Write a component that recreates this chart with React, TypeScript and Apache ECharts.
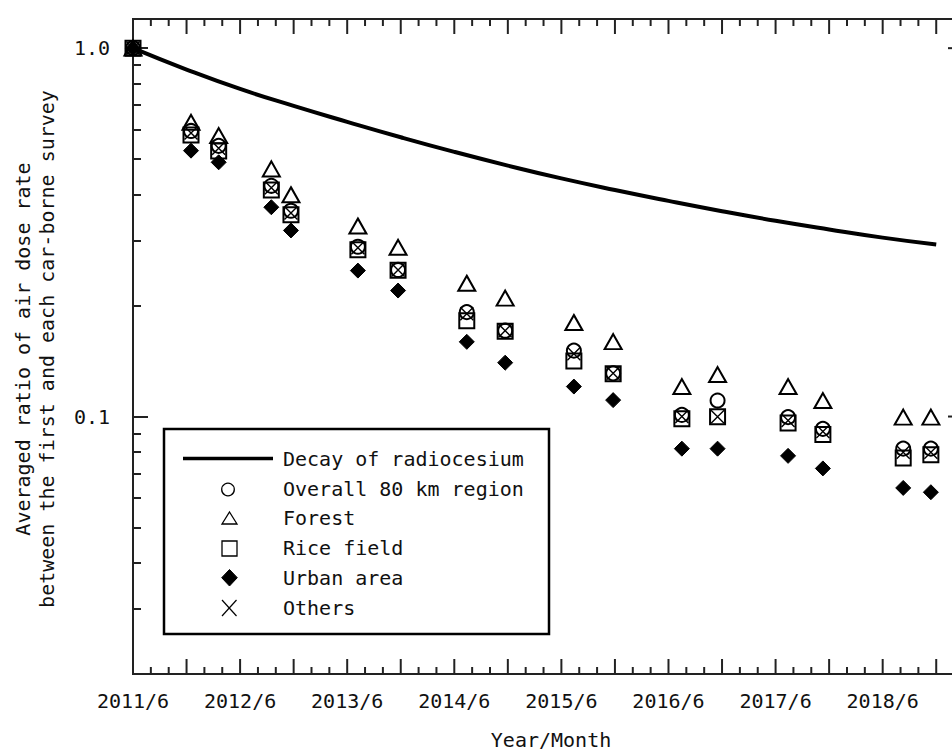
import React, { useEffect, useRef } from "react";
import * as echarts from "echarts";

const FONT = "'DejaVu Sans Mono', 'Liberation Mono', monospace";
const INK = "#111";
const AXIS = "#222";

// Survey timing, in months after 2011/6
const surveyMonths = [0, 6.5, 9.6, 15.5, 17.7, 25.2, 29.7, 37.4, 41.7, 49.4, 53.8, 61.5, 65.5, 73.4, 77.3, 86.3, 89.4];

// Averaged ratio of air dose rate (each survey / first survey)
const overallRegion = [1.0, 0.596, 0.543, 0.423, 0.362, 0.289, 0.25, 0.192, 0.171, 0.151, 0.131, 0.101, 0.1105, 0.0996, 0.0926, 0.0818, 0.0818];
const forest = [1.0, 0.629, 0.579, 0.47, 0.4, 0.329, 0.288, 0.23, 0.2096, 0.18, 0.1597, 0.1206, 0.13, 0.1206, 0.1105, 0.0996, 0.0996];
const riceField = [1.0, 0.581, 0.526, 0.412, 0.353, 0.2835, 0.2496, 0.182, 0.1705, 0.1416, 0.1306, 0.0986, 0.0998, 0.0961, 0.0894, 0.0772, 0.0787];
const urbanArea = [1.0, 0.527, 0.49, 0.37, 0.32, 0.249, 0.2198, 0.1595, 0.14, 0.1206, 0.1108, 0.0818, 0.0818, 0.0782, 0.0723, 0.064, 0.0623];
const others = [1.0, 0.588, 0.535, 0.418, 0.357, 0.287, 0.25, 0.19, 0.171, 0.148, 0.131, 0.1, 0.0998, 0.0975, 0.091, 0.08, 0.08];

// Physical decay of radiocesium (Cs-134 + Cs-137), relative to 2011/6
const decayMonths = [0, 6, 12, 18, 24, 30, 36, 42, 48, 54, 60, 66, 72, 78, 84, 90];
const decayRatio = [1.0, 0.875, 0.775, 0.697, 0.631, 0.573, 0.523, 0.48, 0.443, 0.412, 0.385, 0.361, 0.34, 0.322, 0.306, 0.293];

// Axis ticks and labels
const xMajorTicks = [0, 6, 12, 18, 24, 30, 36, 42, 48, 54, 60, 66, 72, 78, 84, 90];
const xMinorTicks = [2, 4, 8, 10, 14, 16, 20, 22, 26, 28, 32, 34, 38, 40, 44, 46, 50, 52, 56, 58, 62, 64, 68, 70, 74, 76, 80, 82, 86, 88, 92];
const xLabelMonths = [0, 12, 24, 36, 48, 60, 72, 84];
const xLabelTexts = ["2011/6", "2012/6", "2013/6", "2014/6", "2015/6", "2016/6", "2017/6", "2018/6"];
const yMajorTicks = [0.1, 1];
const yMajorTexts = ["0.1", "1.0"];
const yMinorTicks = [0.02, 0.03, 0.04, 0.05, 0.06, 0.07, 0.08, 0.09, 0.2, 0.3, 0.4, 0.5, 0.6, 0.7, 0.8, 0.9];

const X_MIN = 0;
const X_MAX = 93;
const Y_MIN = 0.02;
const Y_MAX = 1.2;

const legendNames = ["Decay of radiocesium", "Overall 80 km region", "Forest", "Rice field", "Urban area", "Others"];

const CROSS = "path://M0,0L10,10M10,0L0,10";

export default function App() {
  const ref = useRef<HTMLDivElement>(null);

  useEffect(() => {
    if (!ref.current) return;
    const chart = echarts.init(ref.current, undefined, { renderer: "svg" });

    const lineStyle = { color: AXIS, width: 2 };

    const xAxisDef = (position: string, labels: boolean) => ({
      type: "value",
      min: X_MIN,
      max: X_MAX,
      position,
      splitLine: { show: false },
      axisLine: { show: true, onZero: false, lineStyle },
      axisTick: { show: false },
      axisLabel: labels
        ? {
            show: true,
            margin: 17,
            fontFamily: FONT,
            fontSize: 20,
            color: INK,
            customValues: xLabelMonths,
            formatter: (v: number) => {
              const i = xLabelMonths.findIndex((m) => Math.abs(m - v) < 1e-6);
              return i >= 0 ? xLabelTexts[i] : "";
            },
          }
        : { show: false },
    });

    const yBase = {
      type: "log",
      logBase: 10,
      min: Y_MIN,
      max: Y_MAX,
      position: "left",
      splitLine: { show: false },
    };

    // month ticks on one frame edge (bottom or top), pointing into the plot
    const xTickSeries = (months: number[], len: number, edge: "bottom" | "top") => ({
      type: "custom",
      xAxisIndex: 0,
      yAxisIndex: 0,
      silent: true,
      clip: false,
      z: 6,
      data: months.map((m) => [m, edge === "bottom" ? Y_MIN : Y_MAX]),
      encode: { x: 0, y: 1 },
      renderItem: (_params: any, api: any) => {
        const p = api.coord([api.value(0), api.value(1)]);
        if (edge === "bottom") {
          return {
            type: "line",
            shape: { x1: p[0], y1: p[1], x2: p[0], y2: p[1] - len },
            style: { stroke: AXIS, lineWidth: 2 },
          };
        }
        return {
          type: "rect",
          shape: { x: p[0] - 1, y: p[1], width: 2, height: len },
          style: { fill: AXIS },
        };
      },
    });

    // ticks along the right frame edge, pointing into the plot
    const rightTickSeries = (values: number[], len: number) => ({
      type: "custom",
      xAxisIndex: 0,
      yAxisIndex: 0,
      silent: true,
      clip: false,
      z: 6,
      data: values.map((v) => [X_MAX, v]),
      encode: { x: 0, y: 1 },
      renderItem: (_params: any, api: any) => {
        const p = api.coord([api.value(0), api.value(1)]);
        return {
          type: "line",
          shape: { x1: p[0], y1: p[1], x2: p[0] - len, y2: p[1] },
          style: { stroke: AXIS, lineWidth: 2 },
        };
      },
    });

    const pts = (vals: number[]) => surveyMonths.map((m, i) => [m, vals[i]]);
    const hollow = { color: "rgba(0,0,0,0)", borderColor: "#000", borderWidth: 2, opacity: 1 };

    const scatter = (name: string, vals: number[], symbol: string, size: any, itemStyle: any, z: number) => ({
      name,
      type: "scatter",
      xAxisIndex: 0,
      yAxisIndex: 0,
      data: pts(vals),
      symbol,
      symbolSize: size,
      itemStyle,
      emphasis: { disabled: true },
      clip: false,
      z,
    });

    // legend drawn as a framed box inside the plot
    const rowY = [458.5, 489, 518, 547.5, 577.5, 607.5];
    const legendStroke = { stroke: "#000", lineWidth: 1.3, fill: "none" };
    const legendGraphics: any[] = [
      {
        type: "rect",
        z: 100,
        shape: { x: 164, y: 429, width: 385, height: 205 },
        style: { fill: "#fff", stroke: "#000", lineWidth: 2.5 },
      },
      {
        type: "line",
        z: 101,
        shape: { x1: 183, y1: rowY[0], x2: 273, y2: rowY[0] },
        style: { stroke: "#000", lineWidth: 3.5 },
      },
      { type: "circle", z: 101, shape: { cx: 228, cy: rowY[1] + 0.5, r: 6.3 }, style: { ...legendStroke } },
      {
        type: "polygon",
        z: 101,
        shape: { points: [[229.5, 512], [237, 524], [222, 524]] },
        style: { ...legendStroke },
      },
      { type: "rect", z: 101, shape: { x: 222, y: 541, width: 15, height: 15 }, style: { ...legendStroke } },
      {
        type: "polygon",
        z: 101,
        shape: { points: [[229.5, 569.5], [237.3, 577.7], [229.5, 586], [221.7, 577.7]] },
        style: { fill: "#000", stroke: "#000", lineWidth: 1 },
      },
      { type: "line", z: 101, shape: { x1: 222, y1: 600, x2: 236.5, y2: 616 }, style: { stroke: "#000", lineWidth: 1.2 } },
      { type: "line", z: 101, shape: { x1: 236.5, y1: 600, x2: 222, y2: 616 }, style: { stroke: "#000", lineWidth: 1.2 } },
      ...legendNames.map((t, i) => ({
        type: "text",
        z: 101,
        x: 283,
        y: rowY[i],
        style: {
          text: t,
          fontFamily: FONT,
          fontSize: 20,
          fill: INK,
          verticalAlign: "middle",
          align: "left",
        },
      })),
    ];

    chart.setOption({
      animation: false,
      backgroundColor: "#fff",
      grid: {
        left: 133,
        right: 17,
        top: 19,
        bottom: 77,
        containLabel: false,
        outerBoundsMode: "none",
        show: true,
        borderColor: AXIS,
        borderWidth: 2,
        backgroundColor: "rgba(0,0,0,0)",
      },
      xAxis: [xAxisDef("bottom", true), xAxisDef("top", false)],
      yAxis: [
        {
          ...yBase,
          axisLine: { show: true, onZero: false, lineStyle },
          axisTick: { show: true, inside: true, length: 15, lineStyle, customValues: yMajorTicks },
          axisLabel: {
            show: true,
            margin: 23,
            fontFamily: FONT,
            fontSize: 20,
            color: INK,
            customValues: yMajorTicks,
            formatter: (v: number) => {
              const i = yMajorTicks.findIndex((t) => Math.abs(t - v) < 1e-9);
              return i >= 0 ? yMajorTexts[i] : "";
            },
          },
        },
        {
          ...yBase,
          axisLine: { show: false, onZero: false },
          axisTick: { show: true, inside: true, length: 8, lineStyle, customValues: yMinorTicks },
          axisLabel: { show: false },
        },
      ],
      series: [
        xTickSeries(xMajorTicks, 15, "bottom"),
        xTickSeries(xMinorTicks, 7, "bottom"),
        xTickSeries(xMajorTicks, 15, "top"),
        xTickSeries(xMinorTicks, 7, "top"),
        rightTickSeries(yMajorTicks, 15),
        rightTickSeries(yMinorTicks, 8),
        {
          name: legendNames[0],
          type: "line",
          xAxisIndex: 0,
          yAxisIndex: 0,
          data: decayMonths.map((m, i) => [m, decayRatio[i]]),
          smooth: true,
          showSymbol: false,
          symbol: "none",
          lineStyle: { color: "#000", width: 4 },
          emphasis: { disabled: true },
          clip: false,
          z: 2,
        },
        scatter(legendNames[1], overallRegion, "circle", 14, hollow, 3),
        scatter(legendNames[2], forest, "triangle", [17, 15], hollow, 3),
        scatter(legendNames[3], riceField, "rect", 15, hollow, 3),
        scatter(legendNames[4], urbanArea, "diamond", 15, { color: "#000", borderColor: "#000", borderWidth: 1, opacity: 1 }, 4),
        scatter(legendNames[5], others, CROSS, 13, { color: "rgba(0,0,0,0)", borderColor: "#000", borderWidth: 1.4, opacity: 1 }, 5),
      ],
      graphic: [
        {
          type: "text",
          z: 100,
          x: 35,
          y: 349,
          rotation: Math.PI / 2,
          style: {
            text: "Averaged ratio of air dose rate\nbetween the first and each car-borne survey",
            fontFamily: FONT,
            fontSize: 20,
            lineHeight: 24,
            fill: INK,
            align: "center",
            verticalAlign: "middle",
          },
        },
        {
          type: "text",
          z: 100,
          x: 551,
          y: 740,
          style: {
            text: "Year/Month",
            fontFamily: FONT,
            fontSize: 20,
            fill: INK,
            align: "center",
            verticalAlign: "middle",
          },
        },
        ...legendGraphics,
      ],
    });

    return () => chart.dispose();
  }, []);

  return (
    <div
      style={{
        position: "fixed",
        left: 0,
        top: 0,
        width: 952,
        height: 751,
        overflow: "hidden",
        background: "#fff",
      }}
    >
      <div ref={ref} style={{ width: 980, height: 751 }} />
    </div>
  );
}
